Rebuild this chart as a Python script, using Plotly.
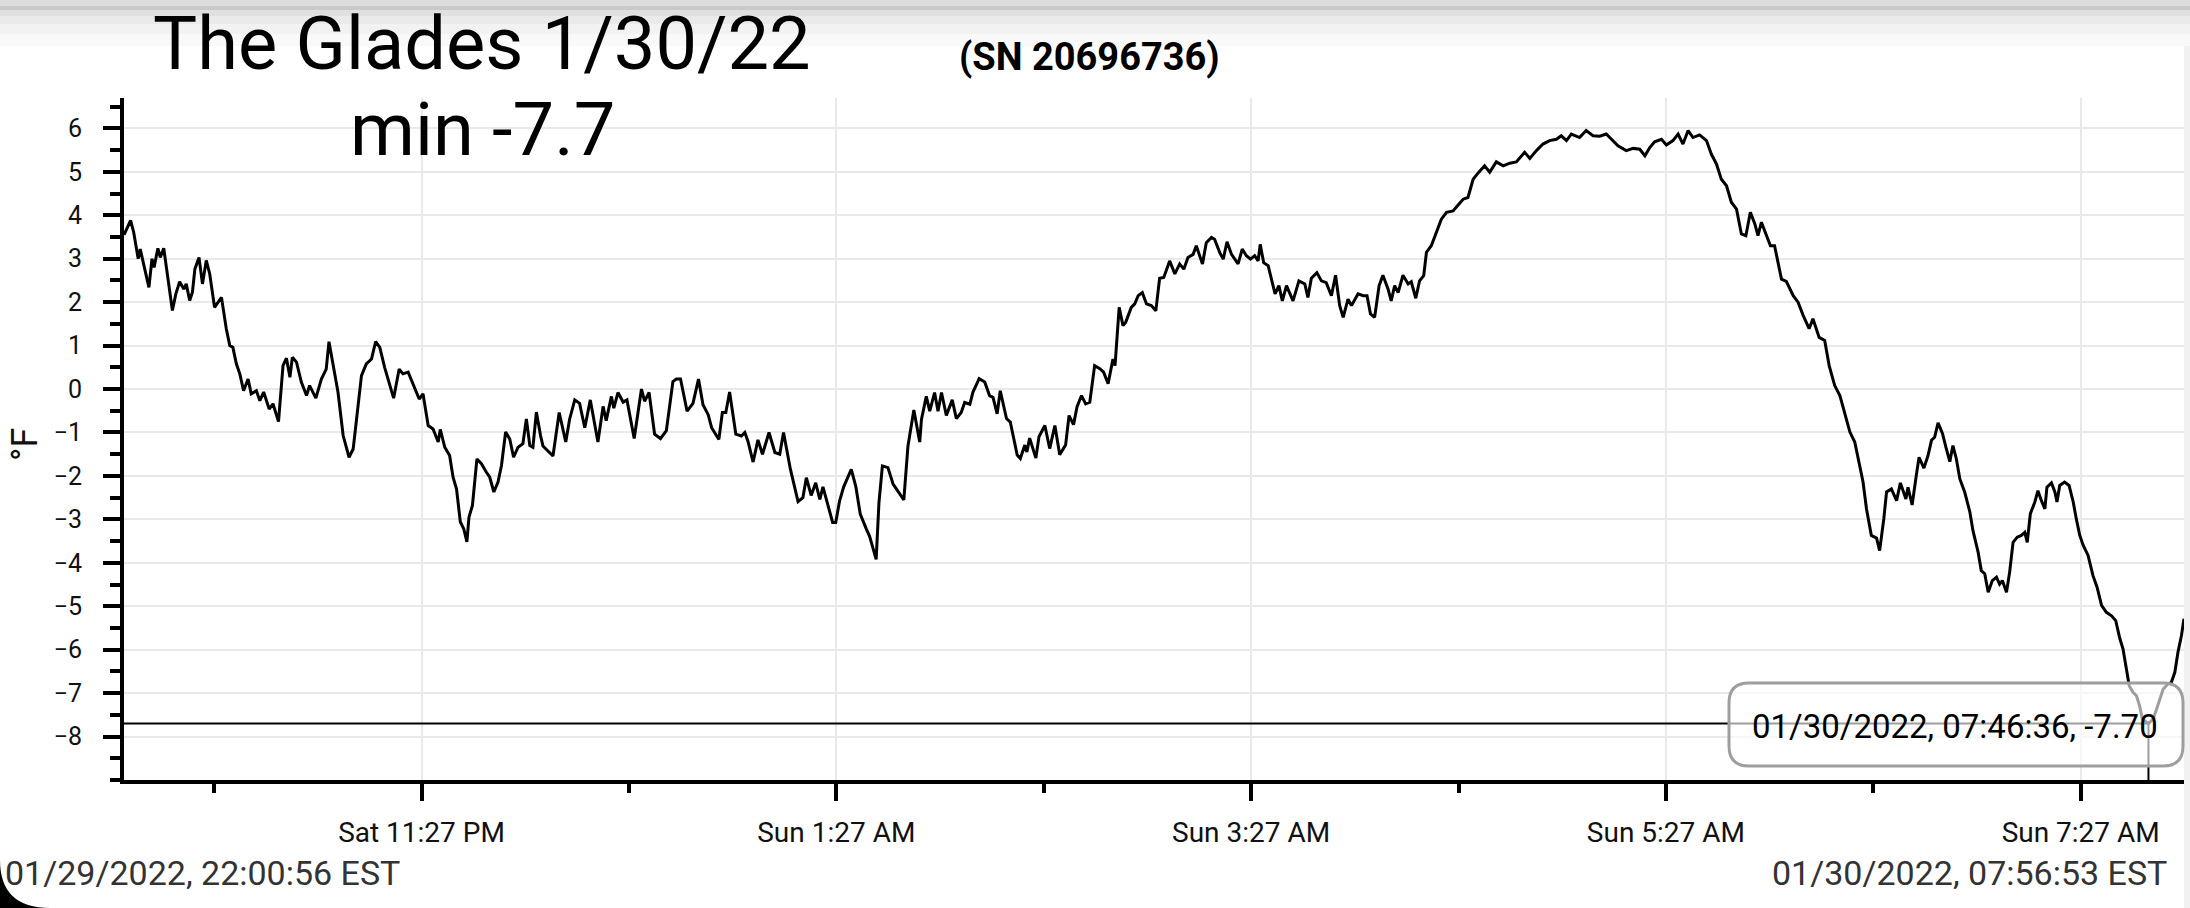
import pandas as pd
import plotly.graph_objects as go

# ======================================================================
#                       DATA
# ======================================================================

START = "2022-01-29 22:00:56"
END = "2022-01-30 07:56:53"

# minutes after START
MINUTES = [
    0.0, 1.9, 2.8, 4.1, 4.7, 5.3, 7.2, 8.1, 8.7, 9.8, 10.5, 11.5, 14.0, 15.0, 16.1, 17.3,
    18.0, 19.0, 19.8, 20.5, 21.7, 22.7, 23.8, 24.8, 26.2, 28.2, 29.6, 30.6, 31.5, 32.5,
    33.5, 34.6, 35.9, 36.8, 38.3, 39.3, 40.4, 42.0, 43.1, 44.7, 46.0, 47.0, 48.0, 48.7,
    49.9, 51.3, 52.8, 53.7, 55.5, 57.1, 58.5, 59.3, 61.9, 63.4, 65.1, 66.3, 67.4, 68.7,
    70.1, 71.6, 72.8, 74.0, 75.4, 78.0, 79.6, 80.7, 82.2, 84.1, 85.4, 86.5, 88.0, 89.4,
    90.9, 91.5, 92.8, 94.2, 95.2, 96.2, 97.3, 98.3, 99.2, 99.8, 100.8, 102.1, 103.4,
    104.8, 105.8, 107.0, 108.2, 109.2, 110.4, 111.6, 112.7, 114.0, 115.4, 116.4, 117.4,
    118.3, 119.3, 120.5, 121.2, 124.1, 125.9, 127.8, 128.9, 130.4, 131.8, 133.3, 134.9,
    137.1, 138.6, 139.5, 141.0, 141.7, 142.9, 144.4, 145.5, 147.6, 149.7, 150.6, 151.9,
    153.5, 155.2, 156.9, 158.8, 159.8, 161.0, 162.9, 164.6, 166.2, 167.5, 169.0, 170.0,
    172.1, 173.1, 174.1, 175.2, 177.0, 178.6, 179.6, 180.5, 182.0, 183.4, 184.7, 186.6,
    188.3, 189.7, 190.8, 192.8, 195.0, 196.4, 197.4, 198.8, 200.1, 201.3, 202.2, 203.4,
    205.0, 205.9, 207.0, 208.2, 210.4, 211.7, 213.0, 214.8, 215.7, 217.6, 218.4, 219.4,
    221.0, 222.5, 223.9, 225.6, 226.8, 228.5, 230.2, 230.7, 232.1, 233.1, 234.5, 235.5,
    236.5, 237.9, 239.6, 240.8, 242.2, 243.2, 244.7, 245.6, 247.4, 249.0, 250.4, 251.4,
    252.6, 253.5, 255.3, 256.4, 258.4, 259.3, 260.6, 261.2, 262.0, 263.8, 264.7, 266.4,
    267.8, 269.3, 270.7, 272.4, 273.4, 274.7, 275.7, 277.0, 278.2, 279.4, 280.8, 282.3,
    283.4, 284.7, 286.1, 286.7, 287.9, 289.0, 289.8, 291.4, 292.4, 293.4, 294.6, 295.8,
    297.2, 298.5, 299.6, 300.8, 302.5, 304.0, 305.4, 306.6, 307.8, 309.3, 310.2, 312.0,
    313.1, 314.6, 315.5, 317.0, 318.0, 319.1, 320.4, 322.3, 323.5, 324.7, 325.9, 327.1,
    328.1, 328.7, 329.7, 331.0, 333.0, 334.1, 335.1, 336.3, 338.2, 339.9, 341.6, 342.5,
    343.5, 345.1, 346.4, 347.8, 349.3, 350.5, 351.7, 352.7, 354.1, 355.1, 357.0, 358.5,
    359.6, 360.6, 361.8, 363.1, 364.2, 365.7, 366.6, 367.6, 368.6, 370.0, 371.5, 372.4,
    373.7, 374.8, 376.0, 376.8, 378.2, 379.7, 381.1, 382.6, 384.5, 385.9, 387.4, 388.8,
    390.3, 391.7, 393.6, 395.1, 397.0, 399.0, 400.9, 402.8, 405.2, 406.7, 408.6, 410.5,
    412.4, 414.4, 415.8, 417.3, 418.7, 421.1, 423.0, 425.0, 426.9, 428.8, 430.8, 432.2,
    434.6, 436.6, 438.5, 440.0, 441.4, 442.8, 444.8, 446.2, 448.1, 449.6, 451.0, 452.5,
    453.9, 455.8, 457.8, 459.2, 460.7, 462.1, 463.6, 465.0, 466.5, 467.9, 469.2, 470.5,
    471.8, 472.7, 473.7, 475.1, 476.3, 477.5, 478.5, 479.5, 480.9, 482.9, 484.3, 485.8,
    487.5, 488.6, 490.4, 492.0, 493.3, 494.9, 496.4, 497.8, 499.3, 500.7, 502.1, 503.1,
    504.1, 505.5, 507.0, 507.9, 509.1, 509.9, 511.3, 512.8, 513.9, 515.5, 516.1, 517.3,
    518.5, 519.3, 520.7, 521.9, 522.9, 523.8, 524.8, 526.1, 527.2, 528.2, 529.1, 530.1,
    531.1, 532.5, 534.0, 534.9, 536.4, 537.3, 538.3, 539.3, 540.5, 541.7, 542.6, 543.4,
    544.6, 545.5, 546.5, 547.7, 548.9, 549.9, 550.6, 551.5, 552.8, 553.7, 554.7, 555.7,
    556.3, 557.6, 558.6, 559.2, 560.0, 561.4, 562.7, 563.9, 564.8, 565.8, 566.8, 568.2,
    569.6, 570.8, 572.1, 573.5, 575.0, 576.2, 577.4, 578.3, 579.3, 580.1, 581.2, 582.2,
    583.1, 583.9, 585.667, 587.0, 588.0, 588.9, 589.9, 591.3, 592.3, 593.3, 594.2, 595.2,
    595.95,
]

TEMPS_F = [
    3.55, 3.88, 3.61, 3.0, 3.22, 3.0, 2.34, 3.0, 2.8, 3.24, 3.03, 3.24, 1.81, 2.19, 2.47, 2.3,
    2.42, 2.04, 2.23, 2.76, 3.03, 2.42, 2.96, 2.65, 1.88, 2.11, 1.38, 1.0, 0.96, 0.58,
    0.35, -0.04, 0.23, -0.11, -0.04, -0.27, -0.07, -0.46, -0.34, -0.75, 0.54, 0.71, 0.27, 0.73,
    0.62, 0.16, -0.15, 0.08, -0.21, 0.23, 0.46, 1.09, -0.07, -1.07, -1.57, -1.38, -0.65, 0.31,
    0.58, 0.69, 1.09, 0.96, 0.5, -0.21, 0.46, 0.35, 0.39, 0.0, -0.23, -0.11, -0.84, -0.92,
    -1.22, -0.93, -1.34, -1.53, -2.03, -2.3, -3.06, -3.22, -3.52, -2.95, -2.68, -1.61, -1.72,
    -1.91, -2.03, -2.37, -2.14, -1.76, -0.99, -1.15, -1.57, -1.34, -1.26, -0.69, -1.3,
    -1.34, -0.53, -1.07, -1.31, -1.54, -0.54, -1.22, -0.7, -0.25, -0.33, -0.89, -0.25,
    -1.22, -0.4, -0.73, -0.17, -0.44, -0.08, -0.3, -0.25, -1.14, 0.0, -0.28, -0.08,
    -1.04, -1.14, -0.96, 0.17, 0.23, 0.23, -0.51, -0.33, 0.23, -0.36, -0.59, -0.89,
    -1.16, -0.54, -0.54, -0.07, -1.04, -1.08, -1.0, -1.2, -1.68, -1.17, -1.5, -1.0,
    -1.46, -1.5, -1.0, -1.85, -2.59, -2.5, -2.04, -2.45, -2.16, -2.54, -2.25, -2.62,
    -3.07, -3.07, -2.58, -2.25, -1.85, -2.24, -2.88, -3.23, -3.39, -3.92, -2.62, -1.77,
    -1.81, -2.19, -2.35, -2.55, -1.31, -0.48, -1.22, -0.7, -0.17, -0.51, -0.08, -0.51,
    -0.08, -0.61, -0.25, -0.68, -0.54, -0.31, -0.35, -0.07, 0.24, 0.16, -0.15, -0.19,
    -0.57, -0.04, -0.68, -0.76, -1.52, -1.6, -1.29, -1.45, -1.13, -1.59, -1.1, -0.84,
    -1.37, -0.84, -1.51, -1.29, -0.61, -0.82, -0.41, -0.15, -0.34, -0.3, 0.54, 0.47,
    0.39, 0.12, 0.69, 0.54, 1.88, 1.46, 1.54, 1.88, 1.96, 2.15, 2.22, 1.96,
    1.92, 1.8, 2.55, 2.57, 2.95, 2.65, 2.88, 2.76, 3.03, 3.1, 3.3, 2.88,
    3.37, 3.49, 3.45, 3.14, 2.99, 3.39, 3.1, 2.88, 3.22, 3.07, 2.99, 3.07,
    2.95, 3.33, 2.91, 2.84, 2.19, 2.38, 2.03, 2.38, 2.03, 2.49, 2.42, 2.11,
    2.55, 2.68, 2.49, 2.45, 2.15, 2.62, 1.92, 1.65, 2.07, 1.92, 2.19, 2.15,
    2.15, 1.73, 1.65, 2.38, 2.62, 2.3, 2.03, 2.38, 2.22, 2.62, 2.42, 2.47,
    2.09, 2.49, 2.61, 3.15, 3.3, 3.61, 3.91, 4.07, 4.1, 4.23, 4.37, 4.41,
    4.83, 4.97, 5.14, 4.99, 5.23, 5.14, 5.2, 5.23, 5.45, 5.31, 5.49, 5.64,
    5.72, 5.75, 5.83, 5.72, 5.87, 5.79, 5.95, 5.83, 5.82, 5.87, 5.72, 5.6,
    5.49, 5.54, 5.52, 5.37, 5.56, 5.69, 5.75, 5.62, 5.72, 5.87, 5.64, 5.95,
    5.79, 5.85, 5.72, 5.41, 5.18, 4.83, 4.68, 4.3, 4.14, 3.57, 3.53, 4.07,
    3.8, 3.53, 3.84, 3.53, 3.3, 3.3, 2.91, 2.53, 2.48, 2.15, 2.0, 1.69,
    1.39, 1.62, 1.19, 1.12, 0.54, 0.08, -0.15, -0.53, -0.99, -1.22, -1.76, -2.14,
    -2.76, -3.37, -3.43, -3.72, -2.99, -2.37, -2.3, -2.57, -2.16, -2.53, -2.26, -2.67,
    -1.99, -1.57, -1.82, -1.53, -1.18, -1.11, -0.78, -1.03, -1.38, -1.67, -1.3, -1.61,
    -2.07, -2.37, -2.83, -3.26, -3.76, -4.18, -4.25, -4.68, -4.41, -4.33, -4.49, -4.41,
    -4.68, -4.22, -3.53, -3.41, -3.37, -3.3, -3.53, -2.87, -2.6, -2.34, -2.57, -2.76,
    -2.26, -2.16, -2.37, -2.6, -2.22, -2.14, -2.22, -2.6, -2.99, -3.37, -3.6, -3.83,
    -4.29, -4.56, -4.98, -5.14, -5.22, -5.33, -5.75, -5.98, -6.45, -6.83, -6.98, -7.06,
    -7.29, -7.6, -7.7, -7.6, -7.37, -7.14, -6.91, -6.79, -6.75, -6.52, -6.06, -5.68,
    -5.29,
]

X_TICKS = ["2022-01-29 23:27", "2022-01-30 01:27", "2022-01-30 03:27",
           "2022-01-30 05:27", "2022-01-30 07:27"]
X_TICK_LABELS = ["Sat 11:27 PM", "Sun 1:27 AM", "Sun 3:27 AM", "Sun 5:27 AM", "Sun 7:27 AM"]
X_MINOR_TICKS = ["2022-01-29 22:27", "2022-01-30 00:27", "2022-01-30 02:27",
                 "2022-01-30 04:27", "2022-01-30 06:27"]
Y_TICKS = list(range(-8, 7))

TITLE = "The Glades 1/30/22"
SERIAL = "(SN 20696736)"

# ======================================================================
#                       DERIVED VALUES
# ======================================================================

start = pd.Timestamp(START)
end = pd.Timestamp(END)
times = start + pd.to_timedelta(MINUTES, unit="min")

i_min = TEMPS_F.index(min(TEMPS_F))
t_min = times[i_min]
v_min = TEMPS_F[i_min]

# ======================================================================
#                       PAGE GEOMETRY (pixels -> paper)
# ======================================================================

W, H = 2190, 908
L, R, T, B = 124, 6, 98, 128
PW, PH = W - L - R, H - T - B


def px_x(px):
    return (px - L) / PW


def px_y(py):
    return (H - B - py) / PH


FONT = "Roboto, 'Open Sans', sans-serif"

# ======================================================================
#                       FIGURE
# ======================================================================

fig = go.Figure()
fig.add_trace(go.Scatter(
    x=times, y=TEMPS_F,
    mode="lines",
    line=dict(color="black", width=3),
    hoverinfo="skip",
    showlegend=False,
))

shapes = []

# phone status-bar shadow at the top
for y0, y1, col in [(0, 6, "#dcdcdc"), (6, 10, "#c9c9c9"), (10, 16, "#e0e0e0"),
                    (16, 24, "#eaeaea"), (24, 34, "#f2f2f2"), (34, 46, "#f9f9f9")]:
    shapes.append(dict(type="rect", xref="paper", yref="paper",
                       x0=px_x(0), x1=px_x(W), y0=px_y(y1), y1=px_y(y0),
                       fillcolor=col, line=dict(width=0), layer="below"))

# thin strip on the right edge
shapes.append(dict(type="rect", xref="paper", yref="paper",
                   x0=px_x(2184), x1=px_x(W), y0=px_y(H), y1=px_y(46),
                   fillcolor="#f1f1f1", line=dict(width=0), layer="below"))

# rounded screen corner, bottom left
shapes.append(dict(type="path", xref="paper", yref="paper",
                   path=(f"M {px_x(0)},{px_y(H)} L {px_x(0)},{px_y(H - 48)} "
                         f"Q {px_x(0)},{px_y(H)} {px_x(50)},{px_y(H)} Z"),
                   fillcolor="black", line=dict(width=0), layer="above"))

# crosshair at the minimum
shapes.append(dict(type="line", xref="x", yref="y",
                   x0=start, x1=t_min, y0=v_min, y1=v_min,
                   line=dict(color="black", width=2), layer="above"))
shapes.append(dict(type="line", xref="x", yref="y",
                   x0=t_min, x1=t_min, y0=v_min, y1=-9,
                   line=dict(color="black", width=2), layer="above"))

# tooltip box (rounded, semi transparent)
bx0, bx1 = px_x(1729), px_x(2183)
by_top, by_bot = px_y(683), px_y(766)
rx, ry = 20 / PW, 20 / PH
box_path = (
    f"M {bx0 + rx},{by_top} L {bx1 - rx},{by_top} Q {bx1},{by_top} {bx1},{by_top - ry} "
    f"L {bx1},{by_bot + ry} Q {bx1},{by_bot} {bx1 - rx},{by_bot} "
    f"L {bx0 + rx},{by_bot} Q {bx0},{by_bot} {bx0},{by_bot + ry} "
    f"L {bx0},{by_top - ry} Q {bx0},{by_top} {bx0 + rx},{by_top} Z"
)
shapes.append(dict(type="path", xref="paper", yref="paper", path=box_path,
                   fillcolor="rgba(255,255,255,0.62)",
                   line=dict(color="#9e9e9e", width=3), layer="above"))

annotations = [
    dict(text=TITLE, x=px_x(482), y=px_y(43), font=dict(size=74, color="black")),
    dict(text=f"min {v_min:.1f}", x=px_x(482), y=px_y(130), font=dict(size=74, color="black")),
    dict(text=f"<b>{SERIAL}</b>", x=px_x(1089), y=px_y(57), font=dict(size=38, color="black")),
    dict(text="°F", x=px_x(25), y=px_y(445), textangle=-90, font=dict(size=36, color="#111")),
    dict(text=f"{t_min:%m/%d/%Y, %H:%M:%S}, {v_min:.2f}", x=px_x(1955), y=px_y(726),
         font=dict(size=33, color="black")),
    dict(text=f"{start:%m/%d/%Y, %H:%M:%S} EST", x=px_x(3), y=px_y(873), xanchor="left",
         font=dict(size=34, color="#333")),
    dict(text=f"{end:%m/%d/%Y, %H:%M:%S} EST", x=px_x(2169), y=px_y(873), xanchor="right",
         font=dict(size=34, color="#333")),
]
for a in annotations:
    a.setdefault("xanchor", "center")
    a.update(xref="paper", yref="paper", yanchor="middle", showarrow=False)

fig.update_layout(
    width=W, height=H, autosize=False,
    margin=dict(l=L, r=R, t=T, b=B, pad=0),
    paper_bgcolor="white", plot_bgcolor="white",
    font=dict(family=FONT, color="#222"),
    shapes=shapes,
    annotations=annotations,
    showlegend=False,
)

fig.update_xaxes(
    type="date",
    range=[start, end],
    tickmode="array", tickvals=X_TICKS, ticktext=X_TICK_LABELS,
    ticks="outside", ticklen=17, tickwidth=4, tickcolor="black",
    ticklabelstandoff=7,
    tickfont=dict(size=28, color="#111"),
    showline=True, linewidth=4, linecolor="black",
    showgrid=True, gridcolor="#e9e9e9", gridwidth=1.5,
    zeroline=False,
    minor=dict(tickvals=X_MINOR_TICKS, ticks="outside", ticklen=9, tickwidth=4,
               tickcolor="black", showgrid=False),
)

fig.update_yaxes(
    range=[-9, 6.7],
    tickmode="array", tickvals=Y_TICKS,
    ticks="outside", ticklen=17, tickwidth=4, tickcolor="black",
    ticklabelstandoff=16,
    tickfont=dict(size=25, color="#111"),
    showline=True, linewidth=4, linecolor="black",
    showgrid=True, gridcolor="#e9e9e9", gridwidth=1.5,
    zeroline=False,
    minor=dict(dtick=0.5, tick0=-8.5, ticks="outside", ticklen=10, tickwidth=4,
               tickcolor="black", showgrid=False),
)

# the page gets the browser's default 8px body margin; drop it so the
# figure sits flush in the window like the phone screenshot
fig.write_html("out.html", config={"displayModeBar": False},
               post_script="document.body.style.margin = '0';")
